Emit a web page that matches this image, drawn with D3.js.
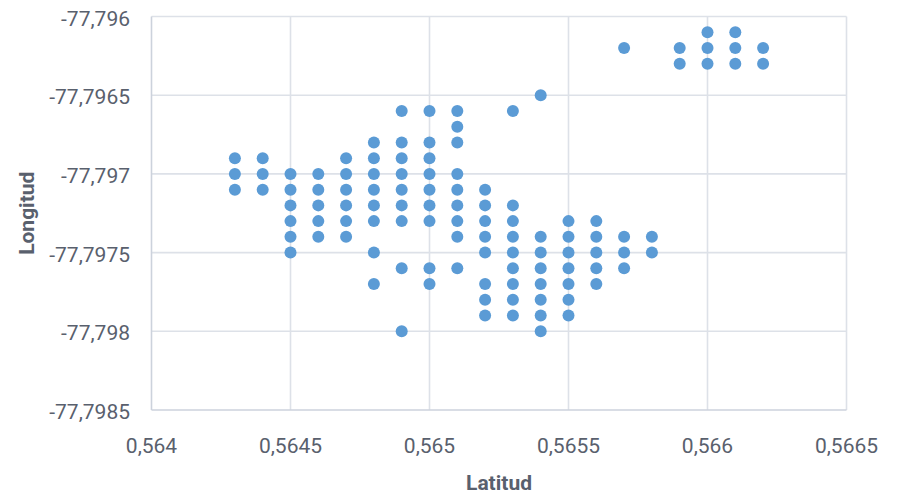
<!DOCTYPE html>
<html>
<head>
<meta charset="utf-8">
<script src="https://cdn.jsdelivr.net/npm/d3@7/dist/d3.min.js"></script>
<style>
  html, body { margin: 0; padding: 0; background: #ffffff; }
  svg { display: block; }
  .tick-label { font-family: Roboto, "Noto Sans", sans-serif; fill: #59606d; }
  .axis-title { font-family: Roboto, "Noto Sans", sans-serif; font-weight: 700; fill: #59606d; }
</style>
</head>
<body>
<svg id="chart" width="899" height="496"></svg>
<script>
// Latitud columns of the survey grid
const latitudes = [0.5643, 0.5644, 0.5645, 0.5646, 0.5647, 0.5648, 0.5649, 0.5650, 0.5651, 0.5652,
                   0.5653, 0.5654, 0.5655, 0.5656, 0.5657, 0.5658, 0.5659, 0.5660, 0.5661, 0.5662];

// Longitud readings recorded at each latitud column (same order as above)
const longitudesByLat = [
  [-77.7969, -77.7970, -77.7971],
  [-77.7969, -77.7970, -77.7971],
  [-77.7970, -77.7971, -77.7972, -77.7973, -77.7974, -77.7975],
  [-77.7970, -77.7971, -77.7972, -77.7973, -77.7974],
  [-77.7969, -77.7970, -77.7971, -77.7972, -77.7973, -77.7974],
  [-77.7968, -77.7969, -77.7970, -77.7971, -77.7972, -77.7973, -77.7975, -77.7977],
  [-77.7966, -77.7968, -77.7969, -77.7970, -77.7971, -77.7972, -77.7973, -77.7976, -77.7980],
  [-77.7966, -77.7968, -77.7969, -77.7970, -77.7971, -77.7972, -77.7973, -77.7976, -77.7977],
  [-77.7966, -77.7967, -77.7968, -77.7970, -77.7971, -77.7972, -77.7973, -77.7974, -77.7976],
  [-77.7971, -77.7972, -77.7973, -77.7974, -77.7975, -77.7977, -77.7978, -77.7979],
  [-77.7966, -77.7972, -77.7973, -77.7974, -77.7975, -77.7976, -77.7977, -77.7978, -77.7979],
  [-77.7965, -77.7974, -77.7975, -77.7976, -77.7977, -77.7978, -77.7979, -77.7980],
  [-77.7973, -77.7974, -77.7975, -77.7976, -77.7977, -77.7978, -77.7979],
  [-77.7973, -77.7974, -77.7975, -77.7976, -77.7977],
  [-77.7962, -77.7974, -77.7975, -77.7976],
  [-77.7974, -77.7975],
  [-77.7962, -77.7963],
  [-77.7961, -77.7962, -77.7963],
  [-77.7961, -77.7962, -77.7963],
  [-77.7962, -77.7963]
];

// Axis ticks and their labels (decimal comma)
const xTicks = [0.564, 0.5645, 0.565, 0.5655, 0.566, 0.5665];
const xTickLabels = ["0,564", "0,5645", "0,565", "0,5655", "0,566", "0,5665"];
const yTicks = [-77.796, -77.7965, -77.797, -77.7975, -77.798, -77.7985];
const yTickLabels = ["-77,796", "-77,7965", "-77,797", "-77,7975", "-77,798", "-77,7985"];

const points = [];
latitudes.forEach((lat, i) => {
  longitudesByLat[i].forEach(lon => points.push({ lat, lon }));
});

const svg = d3.select("#chart");
const plot = { left: 151.5, right: 846.5, top: 16.5, bottom: 410 };

const x = d3.scaleLinear().domain([0.564, 0.5665]).range([plot.left, plot.right]);
const y = d3.scaleLinear().domain([-77.7985, -77.796]).range([plot.bottom, plot.top]);

// Gridlines
const grid = svg.append("g");
grid.selectAll("line.v").data(xTicks.slice(1)).join("line")
  .attr("x1", d => x(d)).attr("x2", d => x(d))
  .attr("y1", plot.top).attr("y2", plot.bottom)
  .attr("stroke", "#dde1e8").attr("stroke-width", 1.6);
grid.selectAll("line.h").data(yTicks.slice(0, -1)).join("line")
  .attr("x1", plot.left).attr("x2", plot.right)
  .attr("y1", d => y(d)).attr("y2", d => y(d))
  .attr("stroke", "#dde1e8").attr("stroke-width", 1.6);

// Axis lines
svg.append("line")
  .attr("x1", x(0.564)).attr("x2", x(0.564))
  .attr("y1", plot.top).attr("y2", plot.bottom)
  .attr("stroke", "#ccd2dc").attr("stroke-width", 1.6);
svg.append("line")
  .attr("x1", plot.left).attr("x2", plot.right)
  .attr("y1", y(-77.7985)).attr("y2", y(-77.7985))
  .attr("stroke", "#ccd2dc").attr("stroke-width", 1.6);

// Tick labels
svg.append("g").selectAll("text").data(xTicks).join("text")
  .attr("class", "tick-label")
  .attr("x", d => x(d)).attr("y", 453)
  .attr("text-anchor", "middle")
  .style("font-size", "21px")
  .text((d, i) => xTickLabels[i]);

svg.append("g").selectAll("text").data(yTicks).join("text")
  .attr("class", "tick-label")
  .attr("x", 130).attr("y", d => y(d) + 9)
  .attr("text-anchor", "end")
  .style("font-size", "21px")
  .text((d, i) => yTickLabels[i]);

// Axis titles
svg.append("text")
  .attr("class", "axis-title")
  .attr("x", (plot.left + plot.right) / 2).attr("y", 490)
  .attr("text-anchor", "middle")
  .style("font-size", "21px")
  .text("Latitud");

svg.append("text")
  .attr("class", "axis-title")
  .attr("transform", `translate(34, ${(plot.top + plot.bottom) / 2}) rotate(-90)`)
  .attr("text-anchor", "middle")
  .style("font-size", "21px")
  .text("Longitud");

// Markers
svg.append("g").selectAll("circle").data(points).join("circle")
  .attr("cx", d => x(d.lat))
  .attr("cy", d => y(d.lon))
  .attr("r", 6)
  .attr("fill", "#5b9bd5");
</script>
</body>
</html>
